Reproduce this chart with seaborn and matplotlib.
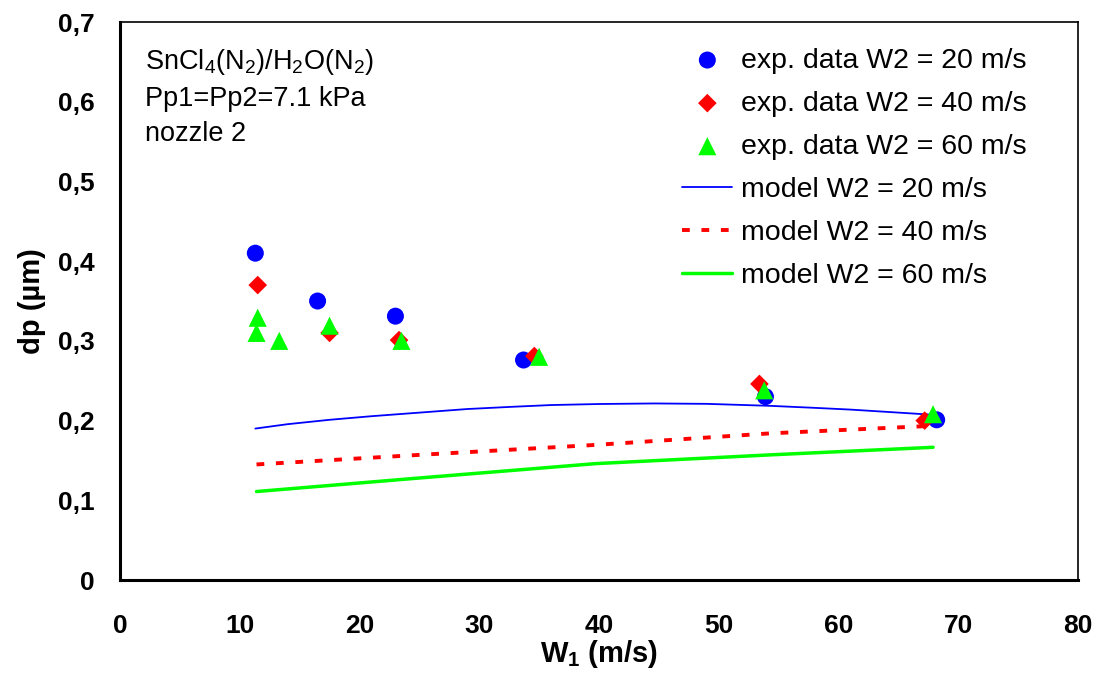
import matplotlib.pyplot as plt
import matplotlib.ticker as mticker
import pandas as pd
import seaborn as sns

# experimental points (W1 in m/s, dp in um)
w1_exp20 = [11.3, 16.5, 23.0, 33.7, 53.9, 68.2]
dp_exp20 = [0.410, 0.350, 0.331, 0.276, 0.230, 0.201]
w1_exp40 = [11.5, 17.5, 23.3, 34.6, 53.4, 67.2]
dp_exp40 = [0.370, 0.310, 0.301, 0.281, 0.246, 0.200]
w1_exp60 = [11.5, 11.4, 13.3, 17.5, 23.5, 35.0, 53.8, 67.9]
dp_exp60 = [0.329, 0.310, 0.300, 0.319, 0.300, 0.280, 0.238, 0.208]

# model curves
w1_mod20 = [11.3, 14.0, 17.5, 21.0, 25.0, 29.0, 32.6, 36.0, 40.0, 44.6,
            49.0, 54.3, 58.0, 61.0, 64.5, 68.2]
dp_mod20 = [0.190, 0.1955, 0.201, 0.2055, 0.210, 0.2145, 0.2172, 0.2195, 0.2208, 0.2215,
            0.221, 0.2185, 0.216, 0.2138, 0.2105, 0.207]
w1_mod40 = [11.4, 25.0, 39.7, 54.3, 67.2]
dp_mod40 = [0.145, 0.157, 0.1695, 0.184, 0.193]
w1_mod60 = [11.4, 25.0, 39.7, 54.3, 67.9]
dp_mod60 = [0.111, 0.128, 0.146, 0.157, 0.1665]

sns.set_style("white")
plt.rcParams["font.family"] = ["Liberation Sans", "DejaVu Sans"]
plt.rcParams["mathtext.fontset"] = "custom"
plt.rcParams["mathtext.rm"] = "Liberation Sans"
plt.rcParams["mathtext.bf"] = "Liberation Sans:bold"
plt.rcParams["text.color"] = "black"
plt.rcParams["axes.labelcolor"] = "black"
plt.rcParams["xtick.color"] = "black"
plt.rcParams["ytick.color"] = "black"

fig = plt.figure(figsize=(11.03, 6.75), dpi=100)
ax = fig.add_axes([0.1088, 0.1407, 0.8685, 0.8267])

sns.scatterplot(x=w1_exp20, y=dp_exp20, ax=ax, marker="o", color="#0000ff", s=150,
                edgecolor="none", label="exp. data W2 = 20 m/s", zorder=3)
sns.scatterplot(x=w1_exp40, y=dp_exp40, ax=ax, marker="D", color="#ff0000", s=90,
                edgecolor="none", label="exp. data W2 = 40 m/s", zorder=4)
sns.scatterplot(x=w1_exp60, y=dp_exp60, ax=ax, marker="^", color="#00ff00", s=170,
                edgecolor="none", label="exp. data W2 = 60 m/s", zorder=5)

sns.lineplot(x=w1_mod20, y=dp_mod20, ax=ax, color="#0000ff", linewidth=1.3,
             label="model W2 = 20 m/s")
sns.lineplot(x=w1_mod40, y=dp_mod40, ax=ax, color="#ff0000", linewidth=2.8,
             linestyle=(0, (2, 3)), label="model W2 = 40 m/s")
sns.lineplot(x=w1_mod60, y=dp_mod60, ax=ax, color="#00ff00", linewidth=2.5,
             label="model W2 = 60 m/s")

ax.set_xlim(0, 80)
ax.set_ylim(0, 0.7)
ax.xaxis.set_major_locator(mticker.MultipleLocator(10))
ax.yaxis.set_major_locator(mticker.MultipleLocator(0.1))
ax.yaxis.set_major_formatter(mticker.FuncFormatter(
    lambda v, p: "0" if abs(v) < 1e-9 else f"{v:.1f}".replace(".", ",")))
ax.tick_params(direction="inout", length=13, width=1.2, color="#808080",
               labelcolor="black", labelsize=19)
ax.tick_params(axis="x", pad=18)
ax.tick_params(axis="y", pad=12)
for lab in ax.get_xticklabels() + ax.get_yticklabels():
    lab.set_fontweight("bold")
for side in ["left", "bottom"]:
    ax.spines[side].set_linewidth(2.2)
for side in ["top", "right"]:
    ax.spines[side].set_linewidth(1.2)
for sp in ax.spines.values():
    sp.set_color("black")

ax.set_xlabel("W$_\\mathbf{1}$ (m/s)", fontsize=21, fontweight="bold", labelpad=0)
ax.set_ylabel("dp (µm)", fontsize=21, fontweight="bold", labelpad=8)

ax.text(0.026, 0.955, "SnCl$_4$(N$_2$)/H$_2$O(N$_2$)\nPp1=Pp2=7.1 kPa\nnozzle 2",
        transform=ax.transAxes, fontsize=19.5, va="top", ha="left", linespacing=1.45)

ax.legend(loc="upper right", bbox_to_anchor=(0.967, 0.99), frameon=False,
          fontsize=20.5, handlelength=1.75, handletextpad=0.3, labelspacing=0.6,
          borderaxespad=0.3)

fig.savefig("out.png", dpi=100)
